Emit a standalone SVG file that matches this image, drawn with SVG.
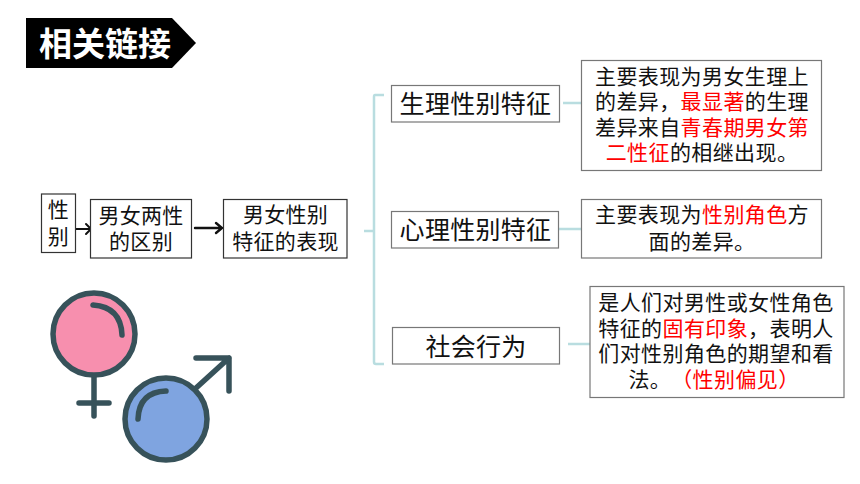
<svg xmlns="http://www.w3.org/2000/svg" width="860" height="484" viewBox="0 0 860 484">
<style>
text{font-family:"Liberation Sans","Noto Sans CJK SC",sans-serif;fill:#111;text-anchor:middle;text-spacing-trim:space-all}
.b{fill:#fff;stroke:#777;stroke-width:1.2}
.k{fill:#fff;stroke:#333;stroke-width:1.2}
.t{font-size:21px;letter-spacing:.3px}
.m{font-size:25px;letter-spacing:.3px}
.d{font-size:21px;letter-spacing:.4px}
.r{fill:#f00}
.c{fill:none;stroke:#b9dde0;stroke-width:2.5}
.a{fill:none;stroke:#111;stroke-linecap:round}
.s{stroke:#37525a;stroke-width:5.500;stroke-linecap:round;stroke-linejoin:round;fill:none}
</style>
<rect width="860" height="484" fill="#fff"/>
<g id="title"><polygon points="26,18 172,18 196,43 172,68 26,68" fill="#000"/><text x="105" y="56" font-size="33" font-weight="700" style="fill:#fff">相关链接</text></g>
<g id="connectors">
<path class="c" d="M384,95 H375 Q374,95 374,97 V362 Q374,364 376,364 H384 M364,231 H374 M563,103 H581 M559,229 H581 M568,344 H590"/>
<path class="a" stroke-width="2" d="M71,229 H91 M86,224 L91,229 L86,234"/>
<path class="a" stroke-width="2.4" d="M195,228 H222 M216,223 L222,228 L216,233"/>
</g>
<g id="n1"><rect class="k" x="41.500" y="194" width="34" height="58.500"/><text class="t" x="58.500" y="217">性</text><text class="t" x="58.500" y="244">别</text></g>
<g id="n2"><rect class="k" x="90.500" y="199.500" width="101" height="58.500"/><text class="t" x="141" y="223">男女两性</text><text class="t" x="141" y="249">的区别</text></g>
<g id="n3"><rect class="k" x="223.500" y="199.500" width="123.500" height="58.500"/><text class="t" x="285.500" y="222">男女性别</text><text class="t" x="285.500" y="249">特征的表现</text></g>
<g id="n4"><rect class="b" x="391.500" y="85.500" width="168" height="36.500"/><text class="m" x="475.500" y="113">生理性别特征</text></g>
<g id="n5"><rect class="b" x="391.500" y="211.500" width="167" height="36.500"/><text class="m" x="475.500" y="239">心理性别特征</text></g>
<g id="n6"><rect class="b" x="392.500" y="327.500" width="167" height="36.500"/><text class="m" x="476" y="356">社会行为</text></g>
<g id="n7"><rect class="b" x="581.500" y="60.500" width="240" height="110"/>
<text class="d" x="702" y="84">主要表现为男女生理上</text>
<text class="d" x="702" y="109">的差异，<tspan class="r">最显著</tspan>的生理</text>
<text class="d" x="702" y="135">差异来自<tspan class="r">青春期男女第</tspan></text>
<text class="d" x="702" y="160"><tspan class="r">二性征</tspan>的相继出现。</text></g>
<g id="n8"><rect class="b" x="581.500" y="199.500" width="240" height="58.500"/>
<text class="d" x="702" y="222">主要表现为<tspan class="r">性别角色</tspan>方</text>
<text class="d" x="702" y="249">面的差异。</text></g>
<g id="n9"><rect class="b" x="590" y="286.500" width="254" height="111"/>
<text class="d" x="716" y="310">是人们对男性或女性角色</text>
<text class="d" x="716" y="336">特征的<tspan class="r">固有印象</tspan>，表明人</text>
<text class="d" x="716" y="361">们对性别角色的期望和看</text>
<text class="d" x="714" y="387">法。<tspan class="r">（性别偏见）</tspan></text></g>
<g id="icon">
<path class="s" d="M94,376 V416 M79,403 H109"/>
<circle cx="94" cy="334" r="41" fill="#f78fae" stroke="#37525a" stroke-width="5.500"/>
<path class="s" d="M93,305 Q121,307 122,335"/>
<path class="s" d="M196,388 L229,358 M196,358 H229 V391"/>
<circle cx="166" cy="419" r="41" fill="#7fa4e0" stroke="#37525a" stroke-width="5.500"/>
<path class="s" d="M138,419 Q139,392 166,391"/>
</g>
</svg>
